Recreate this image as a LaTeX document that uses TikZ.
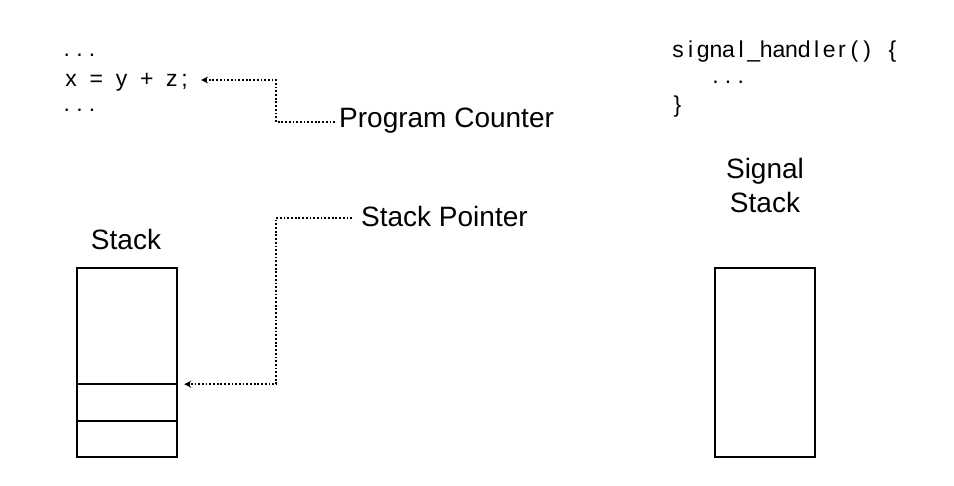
\documentclass[tikz,border=0pt]{standalone}
\usepackage{fontspec}
\setmainfont{Liberation Sans}
\usetikzlibrary{arrows.meta,positioning}

% one fixed cell per character, as on a terminal
\ExplSyntaxOn
\NewDocumentCommand\mono{m}{\str_map_inline:nn {#1} {\makebox[12.6pt]{##1}}}
\ExplSyntaxOff

\tikzset{
  caption/.style={font=\fontsize{28}{34}\selectfont, inner sep=0pt},
  code/.style={font=\fontsize{23}{27}\selectfont, inner sep=0pt, anchor=base west},
  stackbox/.style={draw, line width=2.4pt, minimum width=100pt, minimum height=189pt, inner sep=0pt},
  pointer/.style={line width=1.8pt, dash pattern=on 1.8pt off 1.9pt, -{Stealth[length=7pt,width=7pt]}}
}

\begin{document}
\begin{tikzpicture}[x=1pt,y=-1pt]
      \useasboundingbox (0,0) rectangle (954,486);
      % program text
      \node[code] (dotsa) at (60.4,57) {\mono{...}};
      \node[code, text height=13.4pt, text depth=0pt] (stmt) at (64.7,86.7) {\mono{x = y + z;}};
      \node[code] (dotsb) at (60.4,112) {\mono{...}};
      \node[code] (handler) at (671.7,58) {\mono{signal_handler() }\makebox[12.6pt]{\{}};
      \node[code] (body) at (709,84) {\mono{...}};
      \node[code] (close) at (671,113) {\makebox[12.6pt]{\}}};
      % stacks
      \node[stackbox] (stack) at (127,362.5) {};
      \node[stackbox] (sigstack) at (765,362.5) {};
      \draw[line width=1.5pt] ([yshift=37pt]stack.south west) -- ([yshift=37pt]stack.south east);
      \draw[line width=1.5pt] ([yshift=74pt]stack.south west) -- ([yshift=74pt]stack.south east) coordinate (slot);
      \node[caption, anchor=base] (stacklbl) at (126,250) {Stack};
      \node[caption, anchor=base, align=center] (siglbl) at (765,213) {Signal\\Stack};
      % pointers
      \node[caption, anchor=base west] (pc) at (339,128) {Program Counter};
      \node[caption, anchor=base west] (sp) at (361,227) {Stack Pointer};
      \coordinate (pcbend) at (276,122);
      \coordinate (spbend) at (276,218);
      \draw[pointer] ([xshift=-4pt]pc.west |- pcbend) -- (pcbend) |- ([xshift=10pt]stmt.east);
      \draw[pointer] ([xshift=-9pt]sp.west |- spbend) -- (spbend) |- ([xshift=6pt]slot);
\end{tikzpicture}
\end{document}
